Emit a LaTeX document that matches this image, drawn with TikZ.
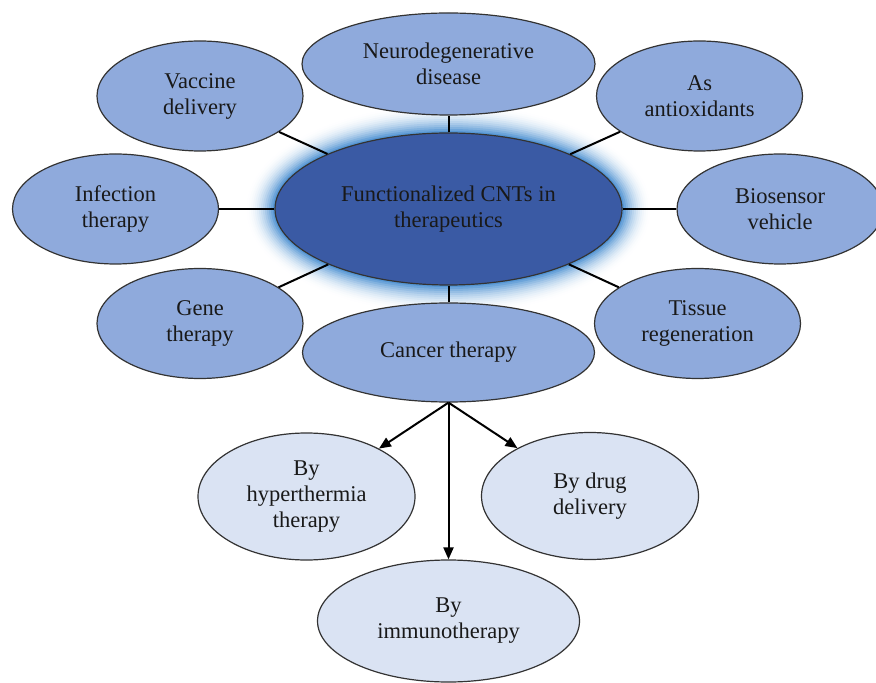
\documentclass[tikz,border=0pt]{standalone}
\usepackage{fontspec}
\setmainfont{Liberation Serif}
\usetikzlibrary{shapes.geometric, arrows.meta}

\definecolor{hubblue}{RGB}{58,90,164}
\definecolor{glowblue}{RGB}{85,150,212}
\definecolor{branchblue}{RGB}{143,170,220}
\definecolor{leafblue}{RGB}{218,227,243}

\tikzset{
  bubble/.style={ellipse, draw=black!80, line width=0.6pt, inner sep=0pt, align=center,
    text=black!90, font=\fontsize{11.25}{13}\selectfont},
  hubnode/.style={bubble, fill=hubblue, minimum width=173.5pt, minimum height=76pt},
  branchnode/.style={bubble, fill=branchblue, minimum width=103pt, minimum height=55pt},
  leafnode/.style={bubble, fill=leafblue, minimum width=108.5pt, minimum height=63.5pt},
  link/.style={line width=1pt, black},
  arrowlink/.style={link, -{Triangle[length=6pt, width=5pt]}}
}

\begin{document}
\begin{tikzpicture}[x=0.5pt, y=-0.5pt]
\fill[white] (0,0) rectangle (876,683);
\useasboundingbox (0,0) rectangle (876,683);

% glow round the hub
\foreach \g in {14,...,1} {
  \pgfmathsetmacro\p{100*((15-\g)/14)^2}
  \fill[glowblue!\p!white] (448.5,209) ellipse [x radius={(86.75+\g)*1pt}, y radius={(38+\g)*1pt}];
}

\node[hubnode] (hub) at (448.5,209) {Functionalized CNTs in\\therapeutics};

\node[branchnode, minimum width=146.5pt, minimum height=51pt] (neuro) at (448.5,64) {Neurodegenerative\\disease};
\node[branchnode] (vaccine) at (200,96) {Vaccine\\delivery};
\node[branchnode] (antiox) at (699.5,96) {As\\antioxidants};
\node[branchnode] (infection) at (115.5,209) {Infection\\therapy};
\node[branchnode] (biosensor) at (780,209) {Biosensor\\vehicle};
\node[branchnode] (gene) at (200,323.5) {Gene\\therapy};
\node[branchnode] (tissue) at (697.5,323.5) {Tissue\\regeneration};
\node[branchnode, minimum width=146pt, minimum height=49.5pt] (cancer) at (448.5,352.5) {Cancer therapy};

\node[leafnode] (hyper) at (306.5,496.5) {By\\hyperthermia\\therapy};
\node[leafnode] (drug) at (590,496) {By drug\\delivery};
\node[leafnode, minimum width=131pt, minimum height=61pt] (immuno) at (448.5,621) {By\\immunotherapy};

\foreach \b in {neuro, vaccine, antiox, infection, biosensor, gene, tissue, cancer}
  \draw[link] (hub) -- (\b);

\draw[arrowlink] (cancer.south) -- (hyper);
\draw[arrowlink] (cancer.south) -- (drug);
\draw[arrowlink] (cancer.south) -- (immuno);

\end{tikzpicture}
\end{document}
